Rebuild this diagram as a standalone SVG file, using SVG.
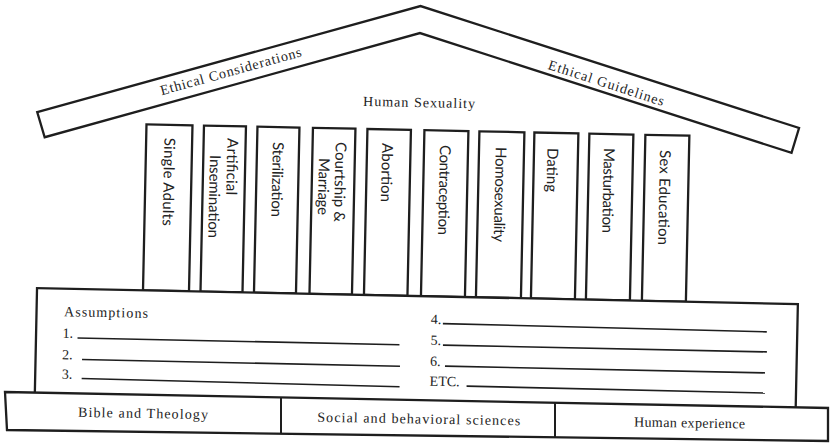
<svg xmlns="http://www.w3.org/2000/svg" width="831" height="444" viewBox="0 0 831 444">
<style>
.sh{fill:#fff;stroke:#1e1e1e;stroke-width:2.3;stroke-linejoin:miter}
.ln{stroke:#1e1e1e;stroke-width:1.6;fill:none}
.dv{stroke:#1e1e1e;stroke-width:2;fill:none}
.sf{font-family:"Liberation Serif","Times New Roman",serif;font-size:14px;fill:#222}
.col{font-family:Lato,"Open Sans","Liberation Sans",sans-serif;font-size:15px;fill:#222}
</style>
<rect width="831" height="444" fill="#fff"/>
<g transform="rotate(1.2 415 222)">
  <g id="roof">
    <polygon class="sh" points="35,120 416,6 797,120 790,145 416,33 43,145"/>
    <text class="sf" font-size="15" text-anchor="middle" x="229" y="79.5" textLength="146" transform="rotate(-16.7 229 79.5)">Ethical Considerations</text>
    <text class="sf" font-size="15" text-anchor="middle" x="602" y="83.5" textLength="121" transform="rotate(16.7 602 83.5)">Ethical Guidelines</text>
  </g>
  <g id="title">
    <text class="sf" text-anchor="middle" x="416.6" y="107" textLength="112">Human Sexuality</text>
  </g>
  <g id="col-single-adults">
    <rect class="sh" x="144.5" y="130" width="46" height="166"/>
    <text class="col" transform="translate(162.7 143) rotate(90)" textLength="88">Single Adults</text>
  </g>
  <g id="col-artificial-insemination">
    <rect class="sh" x="202" y="130" width="42" height="166"/>
    <text class="col" transform="translate(225.7 142) rotate(90)" textLength="57">Artificial</text>
    <text class="col" transform="translate(208.6 159.3) rotate(90)" textLength="83">Insemination</text>
  </g>
  <g id="col-sterilization">
    <rect class="sh" x="255.5" y="130" width="42" height="166"/>
    <text class="col" transform="translate(271.3 145) rotate(90)" textLength="75">Sterilization</text>
  </g>
  <g id="col-courtship-marriage">
    <rect class="sh" x="311" y="130" width="42.5" height="166"/>
    <text class="col" transform="translate(334 143.7) rotate(90)" textLength="80">Courtship &amp;</text>
    <text class="col" transform="translate(317.7 160) rotate(90)" textLength="57">Marriage</text>
  </g>
  <g id="col-abortion">
    <rect class="sh" x="365.5" y="130" width="43.5" height="166"/>
    <text class="col" transform="translate(380.5 143.7) rotate(90)" textLength="59">Abortion</text>
  </g>
  <g id="col-contraception">
    <rect class="sh" x="422.5" y="130" width="44" height="166"/>
    <text class="col" transform="translate(438.4 144.5) rotate(90)" textLength="90">Contraception</text>
  </g>
  <g id="col-homosexuality">
    <rect class="sh" x="477.5" y="130" width="45" height="166"/>
    <text class="col" transform="translate(494.2 145.3) rotate(90)" textLength="95">Homosexuality</text>
  </g>
  <g id="col-dating">
    <rect class="sh" x="532.5" y="130" width="44" height="166"/>
    <text class="col" transform="translate(545.9 145.2) rotate(90)" textLength="44">Dating</text>
  </g>
  <g id="col-masturbation">
    <rect class="sh" x="587.5" y="130" width="44" height="166"/>
    <text class="col" transform="translate(602.4 144) rotate(90)" textLength="85">Masturbation</text>
  </g>
  <g id="col-sex-education">
    <rect class="sh" x="643.5" y="130" width="44" height="166"/>
    <text class="col" transform="translate(658.5 144.9) rotate(90)" textLength="95">Sex Education</text>
  </g>
  <g id="assumptions">
    <rect class="sh" x="38.5" y="296" width="761" height="106"/>
    <text class="sf" x="66" y="323.5" textLength="84">Assumptions</text>
    <text class="sf" x="65" y="345">1.</text>
    <line class="ln" x1="80" y1="345" x2="402" y2="345"/>
    <text class="sf" x="65" y="366.5">2.</text>
    <line class="ln" x1="85" y1="366.5" x2="403" y2="366.5"/>
    <text class="sf" x="65" y="386">3.</text>
    <line class="ln" x1="85" y1="385.5" x2="403" y2="387"/>
    <text class="sf" x="433" y="323.5">4.</text>
    <line class="ln" x1="445" y1="323" x2="769" y2="324.5"/>
    <text class="sf" x="433" y="344.5">5.</text>
    <line class="ln" x1="445.5" y1="344.5" x2="769.5" y2="344.5"/>
    <text class="sf" x="433" y="365.5">6.</text>
    <line class="ln" x1="448" y1="365.5" x2="768" y2="365.5"/>
    <text class="sf" x="433" y="385.3">ETC.</text>
    <line class="ln" x1="470" y1="385" x2="768.5" y2="385.7"/>
  </g>
</g>
<g id="base">
  <polygon class="sh" points="5,392 828,408 828,441 7,430"/>
  <line class="dv" x1="281" y1="397.5" x2="281" y2="433.5"/>
  <line class="dv" x1="555" y1="402.8" x2="555" y2="437.4"/>
  <text class="sf" font-size="15" text-anchor="middle" x="143" y="418" textLength="130" transform="rotate(1 143 418)">Bible and Theology</text>
  <text class="sf" font-size="15" text-anchor="middle" x="418.7" y="423.5" textLength="203" transform="rotate(1 418.7 423.5)">Social and behavioral sciences</text>
  <text class="sf" font-size="15" text-anchor="middle" x="689.5" y="427.5" textLength="111" transform="rotate(1 689.5 427.5)">Human experience</text>
</g>
<g id="connectors"/>
</svg>
